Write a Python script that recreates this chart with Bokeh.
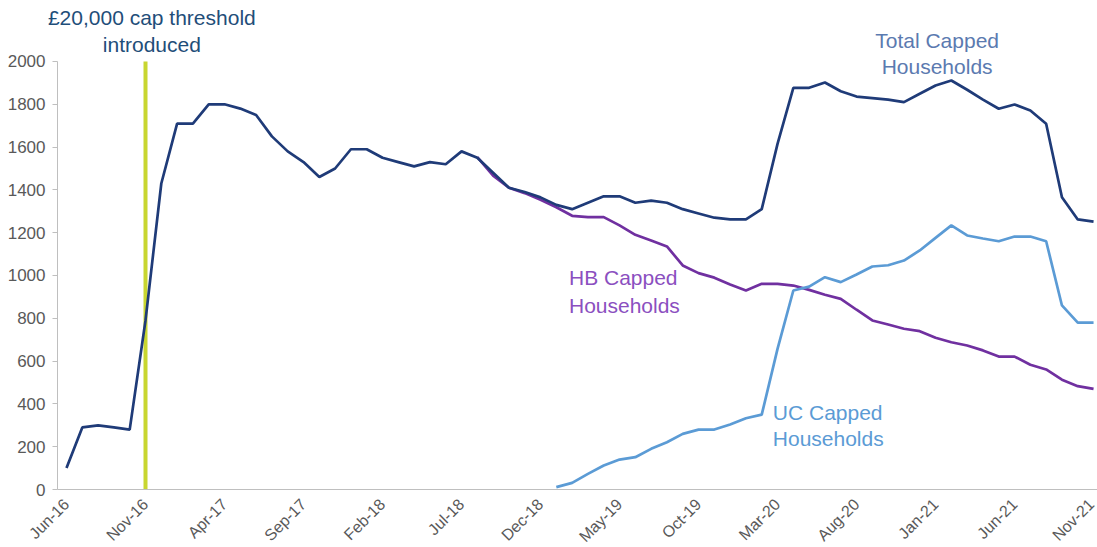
import pandas as pd
from bokeh.plotting import figure
from bokeh.models import Range1d, FixedTicker, Label
from bokeh.embed import file_html
from bokeh.resources import INLINE

# ---- data ----
months = list(pd.date_range("2016-06-01", periods=66, freq="MS").strftime("%b-%y"))
tick_labels = ["Jun-16", "Nov-16", "Apr-17", "Sep-17", "Feb-18", "Jul-18", "Dec-18",
               "May-19", "Oct-19", "Mar-20", "Aug-20", "Jan-21", "Jun-21", "Nov-21"]
threshold_month = "Nov-16"
y_ticks = list(range(0, 2001, 200))

total_capped = [100, 290, 300, 290, 280, 790, 1430, 1710, 1710, 1800,
                1800, 1780, 1750, 1650, 1580, 1530, 1460, 1500, 1590, 1590,
                1550, 1530, 1510, 1530, 1520, 1580, 1550, 1480, 1410, 1390,
                1365, 1330, 1310, 1340, 1370, 1370, 1340, 1350, 1340, 1310,
                1290, 1270, 1262, 1262, 1310, 1615, 1877, 1877, 1902, 1861,
                1836, 1829, 1822, 1810, 1849, 1888, 1911, 1868, 1822, 1779,
                1799, 1771, 1709, 1366, 1262, 1252]

hb_start = "Aug-18"
hb_capped = [1553, 1467, 1410, 1385, 1354, 1319, 1279, 1273, 1273, 1234,
             1190, 1164, 1136, 1047, 1011, 990, 958, 930, 961, 961,
             953, 933, 910, 891, 840, 790, 771, 751, 740, 709,
             688, 673, 650, 621, 621, 583, 561, 513, 483, 470]

uc_start = "Jan-19"
uc_capped = [11, 31, 73, 112, 140, 151, 190, 221, 260, 280,
             280, 304, 333, 350, 657, 930, 948, 992, 969, 1005,
             1042, 1048, 1070, 1117, 1176, 1234, 1187, 1173, 1160, 1182,
             1182, 1160, 860, 780, 780]

# ---- derived positions ----
x_all = list(range(len(months)))
hb_i0 = months.index(hb_start)
uc_i0 = months.index(uc_start)
x_hb = x_all[hb_i0:hb_i0 + len(hb_capped)]
x_uc = x_all[uc_i0:uc_i0 + len(uc_capped)]
tick_pos = [months.index(t) for t in tick_labels]
thr = months.index(threshold_month)

FONT = "Liberation Sans"
X_LEFT = -0.57      # where the value axis sits (just before first month)
X_RIGHT = 65.25

p = figure(width=1097, height=547,
           x_range=Range1d(-4.177, X_RIGHT), y_range=Range1d(-271, 2285),
           output_backend="svg", toolbar_location=None,
           min_border_left=0, min_border_right=0,
           min_border_top=0, min_border_bottom=0)
p.outline_line_color = None
p.grid.visible = False
p.background_fill_color = "white"
p.border_fill_color = "white"

# threshold line
p.segment(x0=[thr], y0=[y_ticks[0]], x1=[thr], y1=[y_ticks[-1]],
          line_color="#c8d630", line_width=4)

p.line(x_hb, hb_capped, line_color="#7030a0", line_width=2.7)
p.line(x_uc, uc_capped, line_color="#5b9bd5", line_width=2.7)
p.line(x_all, total_capped, line_color="#1f3b78", line_width=2.7)

# axes (placed inside the frame so that nothing reserves border space)
p.yaxis.fixed_location = X_LEFT
p.yaxis.ticker = FixedTicker(ticks=y_ticks)
p.yaxis.bounds = (y_ticks[0], y_ticks[-1])
p.yaxis.axis_line_color = "#bfbfbf"
p.yaxis.major_tick_line_color = "#bfbfbf"
p.yaxis.major_tick_out = 5
p.yaxis.major_tick_in = 0
p.yaxis.minor_tick_line_color = None
p.yaxis.major_label_text_font = FONT
p.yaxis.major_label_text_font_size = "17px"
p.yaxis.major_label_text_color = "#595959"
p.yaxis.major_label_standoff = 7

p.xaxis.fixed_location = 0
p.xaxis.ticker = FixedTicker(ticks=tick_pos)
p.xaxis.bounds = (X_LEFT, X_RIGHT)
p.xaxis.major_label_overrides = {pos: lab for pos, lab in zip(tick_pos, tick_labels)}
p.xaxis.axis_line_color = "#bfbfbf"
p.xaxis.major_tick_line_color = None
p.xaxis.major_tick_out = 0
p.xaxis.major_tick_in = 0
p.xaxis.minor_tick_line_color = None
p.xaxis.minor_tick_out = 0
p.xaxis.major_label_orientation = 0.785398
p.xaxis.major_label_text_font = FONT
p.xaxis.major_label_text_font_size = "16px"
p.xaxis.major_label_text_color = "#595959"
p.xaxis.major_label_standoff = 12

# annotations
def add_label(x, y, text, color, align):
    p.add_layout(Label(x=x, y=y, text=text, text_color=color, text_font=FONT,
                       text_font_size="21px", text_align=align,
                       text_baseline="alphabetic"))

add_label(5.4, 2206, "£20,000 cap threshold", "#1f4e79", "center")
add_label(5.4, 2080, "introduced", "#1f4e79", "center")
add_label(55.1, 2100, "Total Capped", "#5b7ab0", "center")
add_label(55.1, 1976, "Households", "#5b7ab0", "center")
add_label(31.8, 989, "HB Capped", "#8b4fc0", "left")
add_label(31.8, 862, "Households", "#8b4fc0", "left")
add_label(44.7, 359, "UC Capped", "#5b9bd5", "left")
add_label(44.7, 239, "Households", "#5b9bd5", "left")

open("out.html", "w").write(file_html(p, INLINE))
